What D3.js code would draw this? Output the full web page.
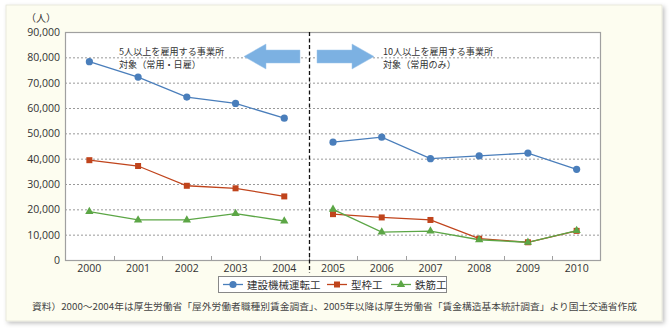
<!DOCTYPE html>
<html><head><meta charset="utf-8">
<script src="https://cdn.jsdelivr.net/npm/d3@7"></script>
<style>
html,body{margin:0;padding:0;background:#fff;}
svg{display:block;font-family:"Noto Sans CJK JP","Noto Sans",sans-serif;}
</style></head>
<body>
<svg id="c" width="671" height="328"></svg>
<script>
const years = ["2000","2001","2002","2003","2004","2005","2006","2007","2008","2009","2010"];
const seriesNames = ["建設機械運転工","型枠工","鉄筋工"];
const operators = [78300,72200,64300,61800,56000,46500,48500,40000,41100,42200,35800];
const formwork  = [39400,37100,29300,28300,25100,18100,16800,15800,8400,7000,11500];
const rebar     = [19100,15800,15800,18300,15400,20000,11000,11400,8000,7000,11600];
const yTicks = [0,10000,20000,30000,40000,50000,60000,70000,80000,90000];
const unitLabel = "（人）";
const noteLeft = ["5人以上を雇用する事業所","対象（常用・日雇）"];
const noteRight = ["10人以上を雇用する事業所","対象（常用のみ）"];
const source = "資料）2000～2004年は厚生労働省「屋外労働者職種別賃金調査」、2005年以降は厚生労働省「賃金構造基本統計調査」より国土交通省作成";

const colors = ["#4a7ebb","#c0441c","#5ca646"];
const data = [operators, formwork, rebar];

const svg = d3.select("#c");
const defs = svg.append("defs");
const f = defs.append("filter").attr("id","sh").attr("x","-5%").attr("y","-5%").attr("width","110%").attr("height","110%");
f.append("feDropShadow").attr("dx",2).attr("dy",2).attr("stdDeviation",2).attr("flood-color","#000").attr("flood-opacity",0.25);
svg.append("rect").attr("x",6).attr("y",5).attr("width",656).attr("height",316)
  .attr("fill","#fdfdf0").attr("stroke","#e4e4d8").attr("stroke-width",0.8).attr("filter","url(#sh)");

const L=65,R=601,T=32,B=260;
const x = d3.scaleBand().domain(years).range([L,R]).padding(0);
const y = d3.scaleLinear().domain([0,90000]).range([B,T]);

svg.append("rect").attr("x",L).attr("y",T).attr("width",R-L).attr("height",B-T).attr("fill","#fff");

svg.append("g").selectAll("line").data(yTicks.filter(d=>d>0&&d<90000)).join("line")
  .attr("x1",L).attr("x2",R).attr("y1",d=>y(d)+0.5).attr("y2",d=>y(d)+0.5)
  .attr("stroke","#999").attr("stroke-width",1).attr("stroke-dasharray","2,2");

svg.append("rect").attr("x",L+0.5).attr("y",T+0.5).attr("width",R-L-1).attr("height",B-T).attr("fill","none").attr("stroke","#a0a0a0").attr("stroke-width",1.2);

const ya = svg.append("g").attr("transform",`translate(${L},0)`)
  .call(d3.axisLeft(y).tickValues(yTicks).tickSize(0).tickPadding(5).tickFormat(d3.format(",")));
ya.select(".domain").remove();
ya.selectAll("text").attr("font-size",10.5).attr("fill","#333").attr("font-family","'Open Sans','Noto Sans',sans-serif");

svg.append("text").attr("x",56).attr("y",22).attr("text-anchor","end").attr("font-size",10).attr("fill","#333").text(unitLabel);

const xa = svg.append("g").attr("transform",`translate(0,${B})`)
  .call(d3.axisBottom(x).tickSize(0).tickPadding(5));
xa.select(".domain").remove();
xa.selectAll("text").attr("font-size",10.5).attr("fill","#333").attr("font-family","'Open Sans','Noto Sans',sans-serif");
svg.append("g").selectAll("line").data(years.slice(1)).join("line")
  .attr("x1",d=>Math.round(x(d))+0.5).attr("x2",d=>Math.round(x(d))+0.5).attr("y1",B).attr("y2",B-4)
  .attr("stroke","#a0a0a0").attr("stroke-width",1);

const xd = Math.round(x("2005"))+0.5;
svg.append("line").attr("x1",xd).attr("x2",xd).attr("y1",T).attr("y2",273)
  .attr("stroke","#111").attr("stroke-width",1.3).attr("stroke-dasharray","4,2.5");

function arrow(x0,x1,dir){
  const yc=56.5, hh=12.5, sh=6.5, head=22;
  let pts;
  if(dir<0){
    pts=[[x0,yc],[x0+head,yc-hh],[x0+head,yc-sh],[x1,yc-sh],[x1,yc+sh],[x0+head,yc+sh],[x0+head,yc+hh]];
  } else {
    pts=[[x1,yc],[x1-head,yc-hh],[x1-head,yc-sh],[x0,yc-sh],[x0,yc+sh],[x1-head,yc+sh],[x1-head,yc+hh]];
  }
  svg.append("polygon").attr("points",pts.map(p=>p.join(",")).join(" ")).attr("fill","#7cb1e2").attr("stroke","#9cc4ea").attr("stroke-width",0.5);
}
arrow(244,300,-1);
arrow(317,374,1);

function note(lines,x0){
  lines.forEach((l,i)=>svg.append("text").attr("x",x0).attr("y",54.5+i*13.2).attr("font-size",9.1).attr("fill","#333").text(l));
}
note(noteLeft,119);
note(noteRight,383);

data.forEach((s,k)=>{
  svg.append("path").datum(s.slice(0,5)).attr("d",d3.line().x((d,i)=>x(years[i])+x.bandwidth()/2).y(d=>y(d))).attr("fill","none").attr("stroke",colors[k]).attr("stroke-width",1.3);
  svg.append("path").datum(s.slice(5)).attr("d",d3.line().x((d,i)=>x(years[i+5])+x.bandwidth()/2).y(d=>y(d))).attr("fill","none").attr("stroke",colors[k]).attr("stroke-width",1.3);
});
function marker(g,k,cx,cy){
  if(k===0) g.append("circle").attr("cx",cx).attr("cy",cy).attr("r",3.6).attr("fill",colors[0]);
  else if(k===1) g.append("rect").attr("x",cx-3).attr("y",cy-3).attr("width",6).attr("height",6).attr("fill",colors[1]);
  else g.append("path").attr("d",d3.symbol(d3.symbolTriangle,30)()).attr("transform",`translate(${cx},${cy})`).attr("fill",colors[2]);
}
const mg = svg.append("g");
data.forEach((s,k)=>s.forEach((v,i)=>marker(mg,k,x(years[i])+x.bandwidth()/2,y(v))));

svg.append("rect").attr("x",218.5).attr("y",276.5).attr("width",228).attr("height",16).attr("fill","#fff").attr("stroke","#888").attr("stroke-width",1);
const lx=[223,327,391];
seriesNames.forEach((n,k)=>{
  svg.append("line").attr("x1",lx[k]).attr("x2",lx[k]+20).attr("y1",284.5).attr("y2",284.5).attr("stroke",colors[k]).attr("stroke-width",1.3);
  marker(svg,k,lx[k]+10,284.5);
  svg.append("text").attr("x",lx[k]+24).attr("y",288.5).attr("font-size",10.5).attr("fill","#333").text(n);
});

svg.append("text").attr("x",32).attr("y",310).attr("font-size",9.3).attr("fill","#444").attr("textLength",605).attr("lengthAdjust","spacingAndGlyphs").text(source);
</script>
</body></html>
